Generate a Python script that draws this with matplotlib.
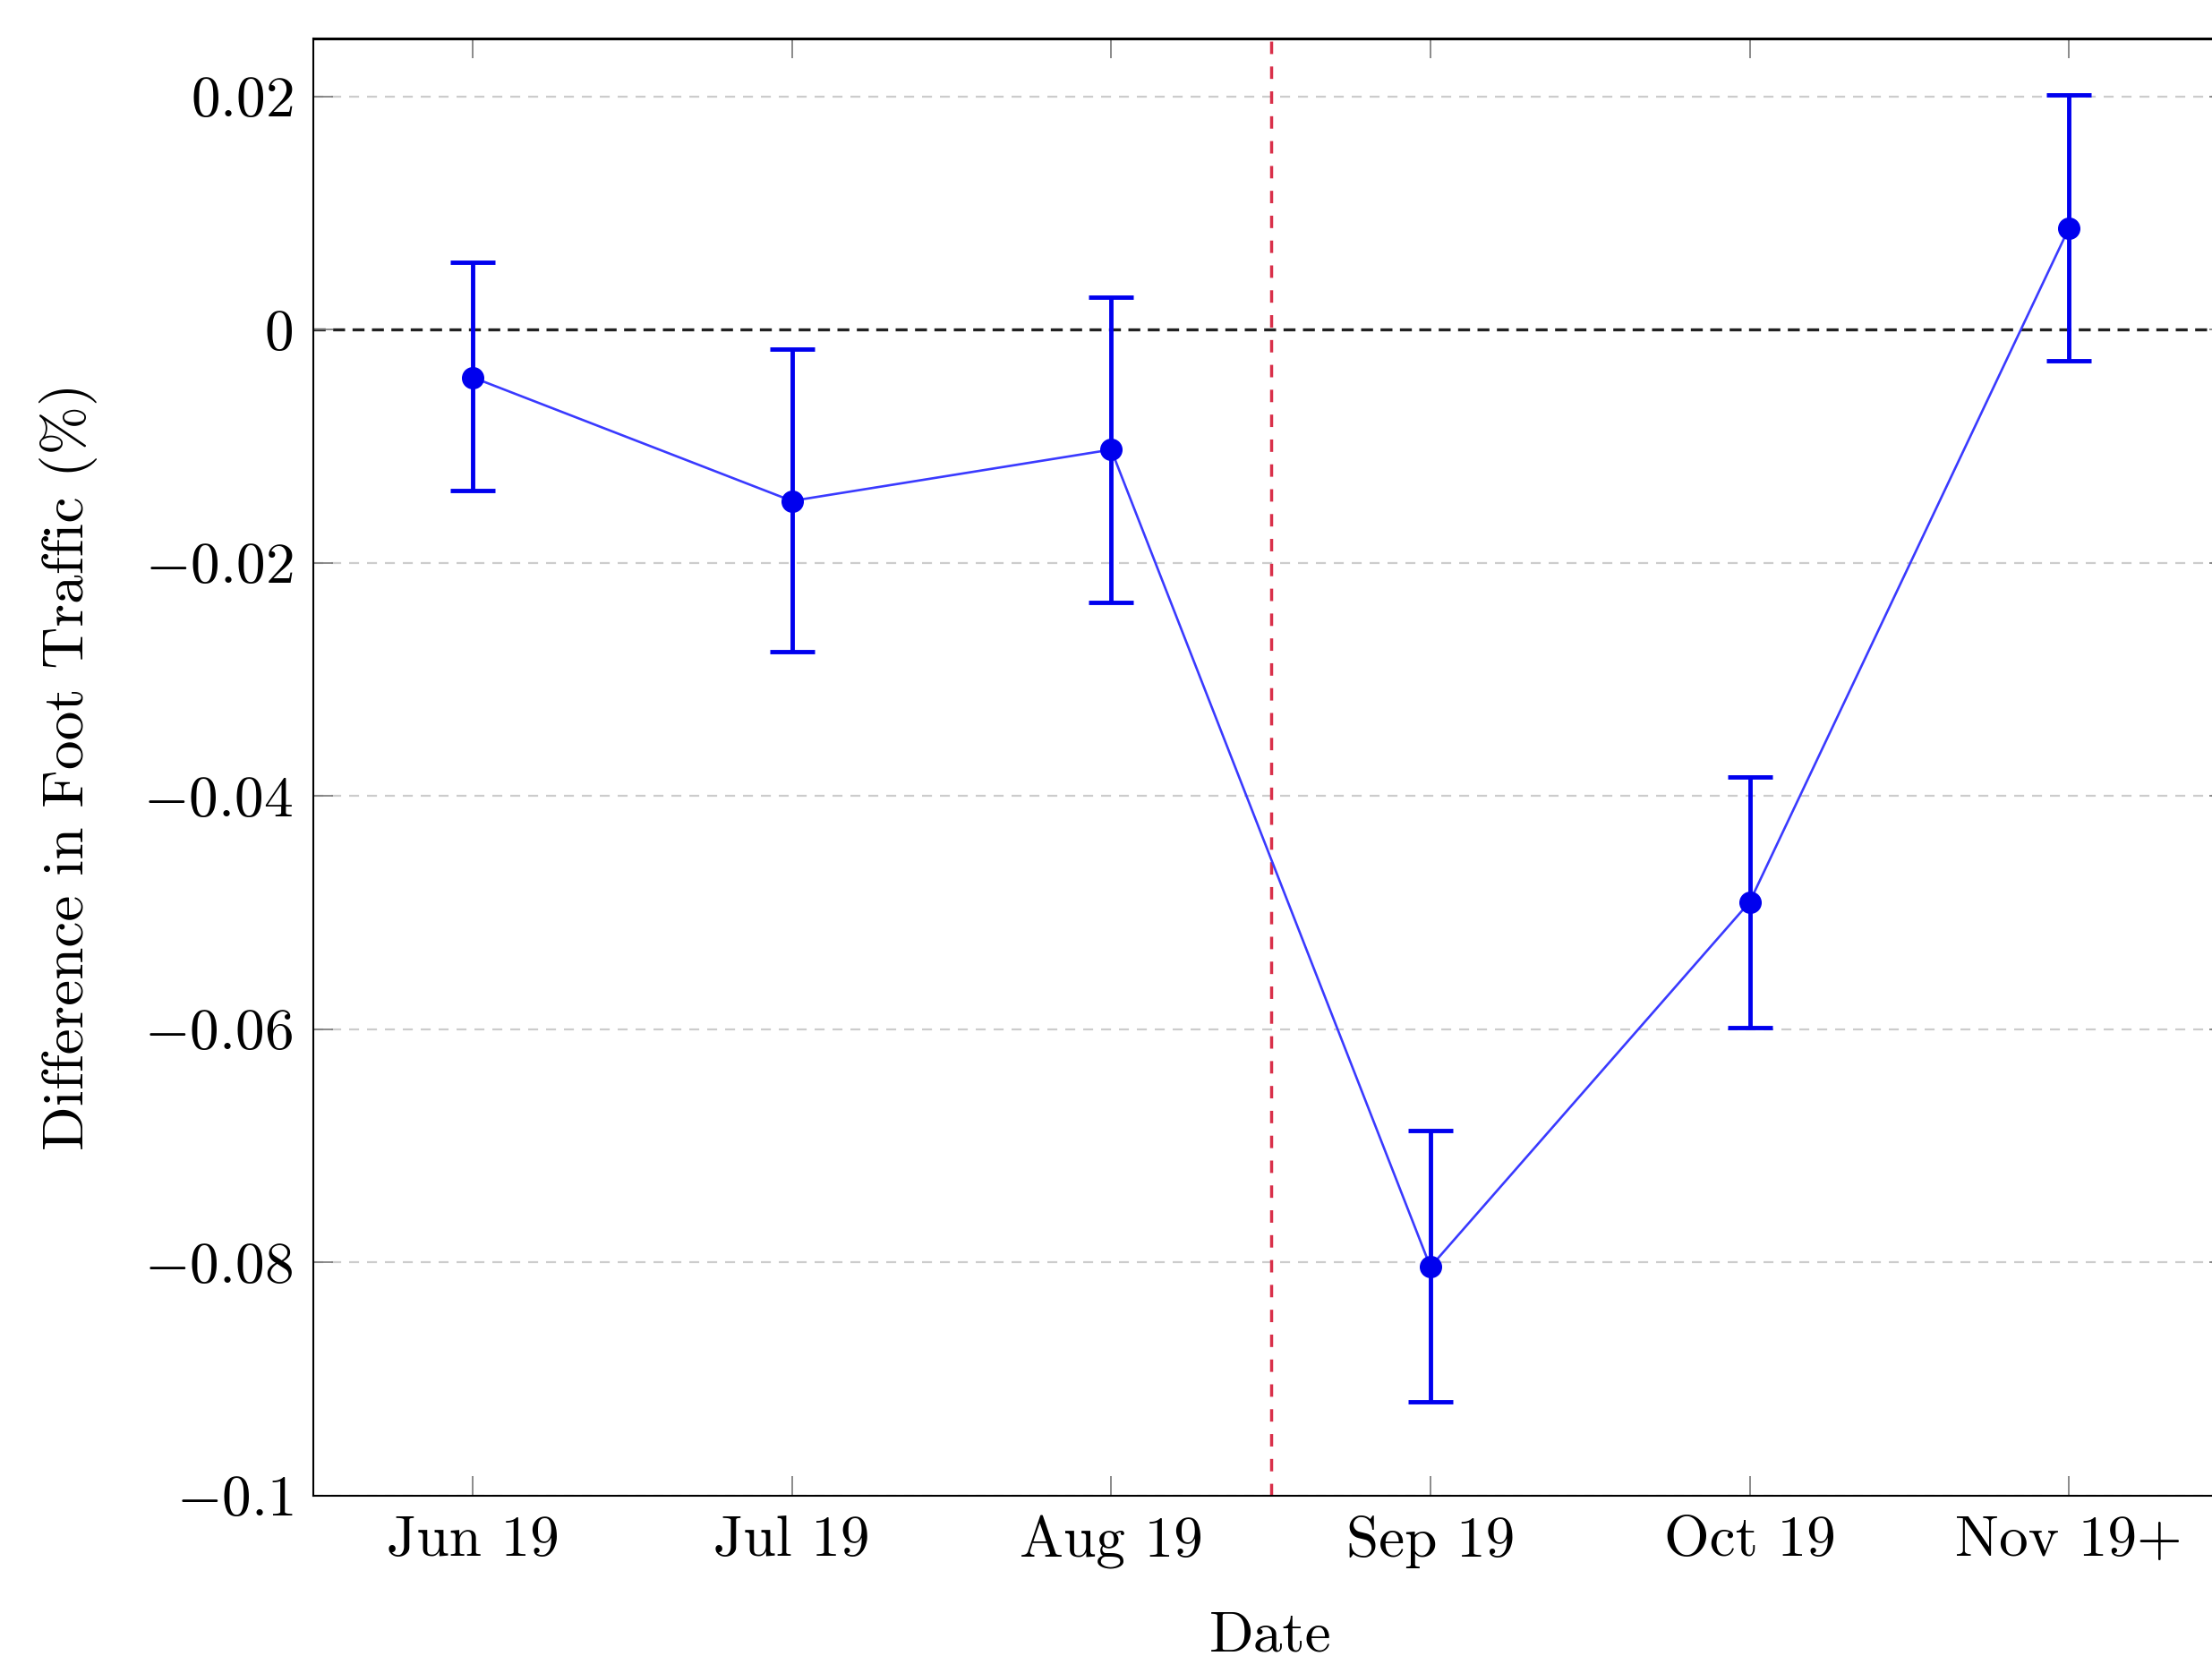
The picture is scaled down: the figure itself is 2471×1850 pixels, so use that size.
import matplotlib
matplotlib.use("Agg")
import matplotlib.pyplot as plt
import numpy as np

# Data
months = ['Jun 19', 'Jul 19', 'Aug 19', 'Sep 19', 'Oct 19', 'Nov 19+']
diff = [-0.0041, -0.0147, -0.0103, -0.0804, -0.0491, 0.0087]
err_low = [0.0097, 0.0129, 0.0131, 0.0116, 0.0108, 0.0114]
err_high = [0.0099, 0.0130, 0.0131, 0.0117, 0.0107, 0.0114]
y_ticks = [-0.1, -0.08, -0.06, -0.04, -0.02, 0, 0.02]
y_tick_labels = ['$-0.1$', '$-0.08$', '$-0.06$', '$-0.04$', '$-0.02$', '$0$', '$0.02$']
event_pos = 2.5

plt.rcParams['font.family'] = 'serif'
plt.rcParams['font.serif'] = ['cmr10']
plt.rcParams['mathtext.fontset'] = 'cm'
plt.rcParams['axes.formatter.use_mathtext'] = True

fig = plt.figure(figsize=(24.71, 18.5), dpi=100)
ax = fig.add_axes([0.1415, 0.097, 0.866, 0.880])

x = np.arange(len(months))

# horizontal grid + zero line
for yt in y_ticks:
    if yt != 0:
        ax.axhline(yt, color='#cccccc', linestyle=(0, (5, 4)), lw=1.6, zorder=0)
ax.axhline(0, color='#222222', linestyle=(0, (4, 2.5)), lw=2.4, zorder=1)
ax.axvline(event_pos, color='#d9304a', linestyle=(0, (4, 4)), lw=2.5, zorder=1)

ax.plot(x, diff, color='#3a3aff', lw=1.9, zorder=2)
ax.errorbar(x, diff, yerr=[err_low, err_high], fmt='o', color='#0000ee',
            markersize=17, elinewidth=3.5, capsize=18, capthick=3.5, zorder=3)

ax.set_xlim(-0.5, 5.5)
ax.set_ylim(-0.1, 0.025)
ax.set_xticks(x)
ax.set_xticklabels(months, fontsize=47)
ax.set_yticks(y_ticks)
ax.set_yticklabels(y_tick_labels, fontsize=47)
ax.tick_params(axis='both', direction='in', length=16, width=1.2, color='#777777',
               top=True, right=True, pad=16)

for side in ['left', 'bottom', 'right']:
    ax.spines[side].set_linewidth(1.5)
ax.spines['top'].set_linewidth(2.2)

ax.set_xlabel('Date', fontsize=47, labelpad=34)
ax.set_ylabel('Difference in Foot Traffic (%)', fontsize=47, labelpad=37)

plt.savefig('out.png', dpi=100)
